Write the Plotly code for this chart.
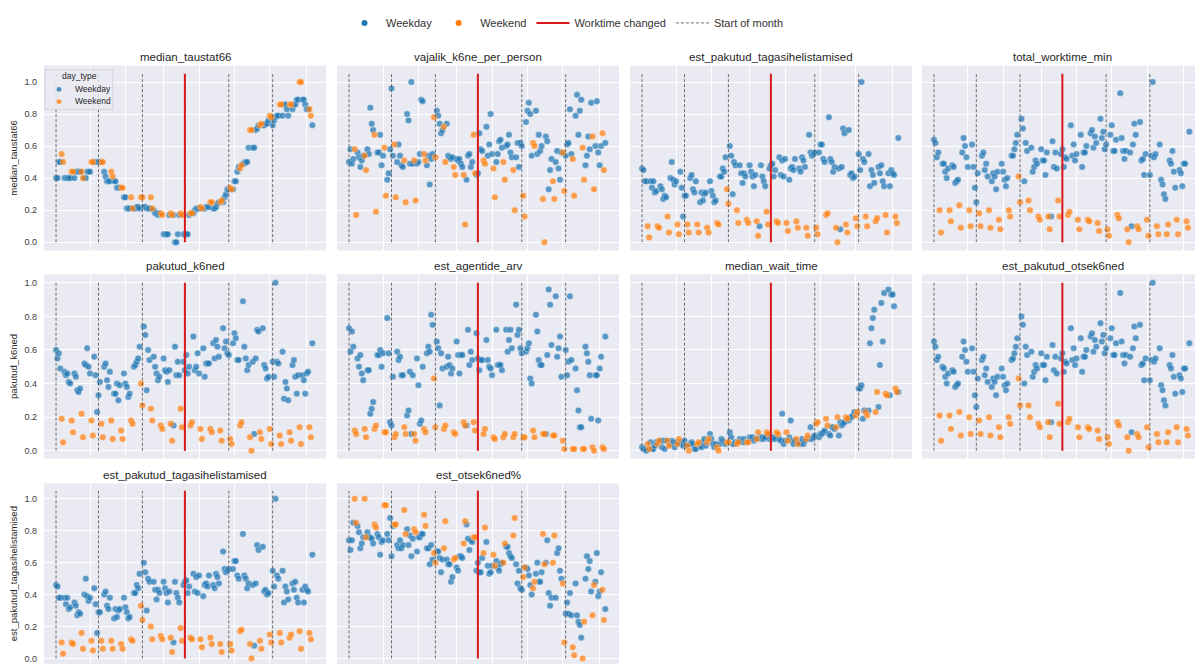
import plotly.graph_objects as go
import pandas as pd

# ---------------- data ----------------
start_date = "2020-09-01"
end_date = "2021-03-01"
month_starts = ["2020-09-01", "2020-10-01", "2020-11-01", "2020-12-01", "2021-01-01", "2021-02-01"]
worktime_change = "2020-12-01"
grid_dates = ["2020-09-25", "2020-10-20", "2020-11-16", "2020-12-11", "2021-01-05", "2021-01-30", "2021-02-25"]
x_range = ["2020-08-23 12:00", "2021-03-10 16:00"]
y_ticks = [0.0, 0.2, 0.4, 0.6, 0.8, 1.0]
y_ticktext = ["0.0", "0.2", "0.4", "0.6", "0.8", "1.0"]

# one value per day (Tue 1 Sep 2020 ... Mon 1 Mar 2021), rows = weeks (Mon..Fri, Sat, Sun)
median_taustat66 = [
    0.40, 0.40, 0.50, 0.50, 0.55, 0.50,
    0.40, 0.40, 0.40, 0.40, 0.40, 0.44, 0.44,
    0.40, 0.44, 0.44, 0.44, 0.44, 0.44, 0.40,
    0.40, 0.40, 0.44, 0.44, 0.44, 0.50, 0.50,
    0.50, 0.50, 0.50, 0.50, 0.50, 0.50, 0.50,
    0.44, 0.41, 0.38, 0.38, 0.38, 0.44, 0.41,
    0.38, 0.38, 0.34, 0.34, 0.34, 0.34, 0.34,
    0.28, 0.28, 0.21, 0.21, 0.21, 0.28, 0.21,
    0.21, 0.21, 0.22, 0.22, 0.21, 0.28, 0.28,
    0.22, 0.22, 0.21, 0.21, 0.21, 0.28, 0.21,
    0.20, 0.18, 0.18, 0.17, 0.18, 0.18, 0.17,
    0.05, 0.05, 0.05, 0.05, 0.17, 0.18, 0.17,
    0.17, 0.00, 0.00, 0.05, 0.17, 0.18, 0.17,
    0.05, 0.05, 0.05, 0.05, 0.17, 0.18, 0.18,
    0.18, 0.20, 0.21, 0.21, 0.21, 0.22, 0.21,
    0.21, 0.21, 0.22, 0.22, 0.22, 0.25, 0.25,
    0.21, 0.21, 0.22, 0.24, 0.25, 0.25, 0.26,
    0.25, 0.28, 0.30, 0.33, 0.33, 0.34, 0.33,
    0.33, 0.38, 0.38, 0.44, 0.47, 0.46, 0.48,
    0.49, 0.49, 0.50, 0.50, 0.59, 0.70, 0.70,
    0.59, 0.59, 0.70, 0.71, 0.73, 0.73, 0.74,
    0.73, 0.73, 0.74, 0.74, 0.76, 0.79, 0.78,
    0.73, 0.76, 0.78, 0.79, 0.79, 0.86, 0.86,
    0.79, 0.86, 0.86, 0.83, 0.79, 0.86, 0.86,
    0.83, 0.86, 0.86, 0.89, 0.89, 1.00, 1.00,
    0.89, 0.89, 0.86, 0.83, 0.83, 0.83, 0.79,
    0.73,
]

vajalik_k6ne_per_person = [
    0.50, 0.58, 0.49, 0.52, 0.58, 0.17,
    0.56, 0.53, 0.47, 0.51, 0.54, 0.54, 0.45,
    0.58, 0.55, 0.84, 0.74, 0.70, 0.67, 0.19,
    0.56, 0.56, 0.67, 0.48, 0.54, 0.59, 0.29,
    0.39, 0.43, 0.58, 0.96, 0.54, 0.61, 0.28,
    0.50, 0.61, 0.54, 0.48, 0.47, 0.51, 0.25,
    0.80, 0.76, 0.49, 1.00, 0.49, 0.51, 0.26,
    0.49, 0.50, 0.55, 0.89, 0.88, 0.55, 0.51,
    0.48, 0.54, 0.36, 0.52, 0.55, 0.78, 0.53,
    0.82, 0.79, 0.74, 0.68, 0.70, 0.72, 0.50,
    0.74, 0.54, 0.53, 0.52, 0.53, 0.47, 0.42,
    0.52, 0.51, 0.52, 0.49, 0.47, 0.42, 0.11,
    0.39, 0.54, 0.55, 0.47, 0.50, 0.67, 0.43,
    0.42, 0.43, 0.68, 0.58, 0.57, 0.51, 0.49,
    0.72, 0.54, 0.61, 0.80, 0.55, 0.46, 0.28,
    0.50, 0.55, 0.63, 0.64, 0.59, 0.50, 0.39,
    0.60, 0.61, 0.67, 0.56, 0.53, 0.45, 0.20,
    0.53, 0.62, 0.47, 0.62, 0.60, 0.29, 0.16,
    0.75, 0.82, 0.87, 0.80, 0.54, 0.62, 0.60,
    0.82, 0.55, 0.67, 0.57, 0.60, 0.27, 0.00,
    0.66, 0.63, 0.33, 0.45, 0.52, 0.38, 0.27,
    0.50, 0.57, 0.46, 0.39, 0.56, 0.56, 0.32,
    0.54, 0.61, 0.62, 0.83, 0.55, 0.52, 0.29,
    0.79, 0.92, 0.67, 0.82, 0.89, 0.59, 0.39,
    0.48, 0.54, 0.66, 0.58, 0.87, 0.66, 0.33,
    0.60, 0.88, 0.56, 0.48, 0.60, 0.68, 0.45,
    0.62,
]

est_pakutud_tagasihelistamised = [
    0.46, 0.45, 0.38, 0.38, 0.10, 0.03,
    0.38, 0.34, 0.38, 0.31, 0.32, 0.10, 0.09,
    0.35, 0.33, 0.27, 0.29, 0.28, 0.16, 0.06,
    0.40, 0.50, 0.39, 0.36, 0.38, 0.11, 0.05,
    0.44, 0.34, 0.16, 0.29, 0.29, 0.11, 0.06,
    0.40, 0.42, 0.33, 0.31, 0.38, 0.11, 0.06,
    0.25, 0.31, 0.26, 0.30, 0.31, 0.09, 0.06,
    0.38, 0.32, 0.29, 0.25, 0.26, 0.12, 0.11,
    0.41, 0.41, 0.46, 0.44, 0.53, 0.33, 0.24,
    0.60, 0.54, 0.30, 0.50, 0.48, 0.20, 0.12,
    0.48, 0.43, 0.37, 0.43, 0.41, 0.14, 0.12,
    0.48, 0.44, 0.41, 0.35, 0.42, 0.13, 0.04,
    0.10, 0.48, 0.41, 0.38, 0.35, 0.19, 0.11,
    0.46, 0.48, 0.49, 0.41, 0.45, 0.13, 0.12,
    0.53, 0.42, 0.51, 0.41, 0.52, 0.12, 0.07,
    0.39, 0.46, 0.47, 0.45, 0.52, 0.13, 0.09,
    0.46, 0.44, 0.53, 0.51, 0.47, 0.09, 0.04,
    0.67, 0.56, 0.54, 0.55, 0.56, 0.09, 0.05,
    0.56, 0.61, 0.61, 0.52, 0.50, 0.17, 0.18,
    0.78, 0.52, 0.50, 0.44, 0.47, 0.09, 0.00,
    0.46, 0.08, 0.47, 0.71, 0.68, 0.11, 0.06,
    0.70, 0.42, 0.43, 0.40, 0.41, 0.15, 0.10,
    0.55, 0.45, 1.00, 0.52, 0.50, 0.16, 0.10,
    0.55, 0.35, 0.45, 0.42, 0.37, 0.13, 0.15,
    0.47, 0.43, 0.48, 0.38, 0.35, 0.17, 0.06,
    0.43, 0.35, 0.45, 0.43, 0.42, 0.16, 0.12,
    0.65,
]

total_worktime_min = [
    0.64, 0.62, 0.53, 0.56, 0.20, 0.06,
    0.49, 0.49, 0.44, 0.40, 0.46, 0.20, 0.13,
    0.48, 0.47, 0.37, 0.38, 0.39, 0.23, 0.09,
    0.56, 0.65, 0.60, 0.53, 0.47, 0.20, 0.10,
    0.61, 0.47, 0.34, 0.25, 0.43, 0.18, 0.10,
    0.54, 0.56, 0.45, 0.49, 0.41, 0.20, 0.09,
    0.38, 0.43, 0.41, 0.33, 0.44, 0.14, 0.08,
    0.49, 0.44, 0.39, 0.35, 0.40, 0.20, 0.16,
    0.54, 0.54, 0.58, 0.62, 0.67, 0.41, 0.25,
    0.77, 0.71, 0.38, 0.62, 0.57, 0.26, 0.20,
    0.59, 0.44, 0.47, 0.51, 0.49, 0.16, 0.14,
    0.58, 0.51, 0.51, 0.42, 0.56, 0.16, 0.08,
    0.16, 0.63, 0.47, 0.56, 0.46, 0.26, 0.16,
    0.55, 0.58, 0.47, 0.53, 0.52, 0.17, 0.19,
    0.73, 0.54, 0.61, 0.51, 0.55, 0.14, 0.08,
    0.67, 0.47, 0.56, 0.56, 0.60, 0.14, 0.13,
    0.68, 0.70, 0.59, 0.66, 0.62, 0.12, 0.07,
    0.77, 0.65, 0.69, 0.58, 0.61, 0.08, 0.04,
    0.67, 0.73, 0.57, 0.57, 0.64, 0.17, 0.15,
    0.93, 0.65, 0.57, 0.52, 0.57, 0.08, 0.00,
    0.56, 0.10, 0.61, 0.74, 0.67, 0.10, 0.08,
    0.75, 0.51, 0.52, 0.42, 0.55, 0.14, 0.04,
    0.42, 0.54, 1.00, 0.53, 0.55, 0.10, 0.05,
    0.61, 0.39, 0.36, 0.30, 0.27, 0.05, 0.11,
    0.51, 0.49, 0.57, 0.44, 0.34, 0.14, 0.05,
    0.45, 0.43, 0.35, 0.49, 0.49, 0.13, 0.09,
    0.69,
]

pakutud_k6ned = [
    0.60, 0.55, 0.58, 0.49, 0.19, 0.05,
    0.47, 0.45, 0.46, 0.41, 0.40, 0.18, 0.11,
    0.46, 0.44, 0.36, 0.35, 0.37, 0.22, 0.08,
    0.52, 0.51, 0.61, 0.50, 0.46, 0.18, 0.09,
    0.56, 0.45, 0.23, 0.33, 0.41, 0.16, 0.08,
    0.50, 0.52, 0.42, 0.38, 0.47, 0.18, 0.07,
    0.34, 0.34, 0.40, 0.30, 0.39, 0.12, 0.07,
    0.46, 0.40, 0.38, 0.32, 0.34, 0.18, 0.16,
    0.50, 0.51, 0.53, 0.55, 0.62, 0.40, 0.27,
    0.74, 0.69, 0.36, 0.60, 0.54, 0.25, 0.18,
    0.56, 0.50, 0.46, 0.42, 0.44, 0.15, 0.13,
    0.55, 0.48, 0.47, 0.41, 0.48, 0.16, 0.06,
    0.15, 0.62, 0.45, 0.53, 0.45, 0.25, 0.14,
    0.53, 0.48, 0.57, 0.46, 0.50, 0.15, 0.17,
    0.68, 0.48, 0.50, 0.58, 0.46, 0.13, 0.07,
    0.61, 0.44, 0.52, 0.52, 0.52, 0.13, 0.11,
    0.64, 0.55, 0.66, 0.62, 0.56, 0.12, 0.06,
    0.73, 0.61, 0.65, 0.58, 0.57, 0.07, 0.04,
    0.64, 0.70, 0.67, 0.54, 0.54, 0.15, 0.17,
    0.89, 0.62, 0.55, 0.48, 0.51, 0.08, 0.00,
    0.53, 0.10, 0.55, 0.72, 0.71, 0.11, 0.07,
    0.73, 0.51, 0.49, 0.43, 0.44, 0.13, 0.04,
    0.53, 0.44, 1.00, 0.53, 0.52, 0.09, 0.04,
    0.59, 0.31, 0.41, 0.37, 0.30, 0.11, 0.06,
    0.51, 0.54, 0.44, 0.34, 0.45, 0.14, 0.04,
    0.45, 0.42, 0.34, 0.46, 0.47, 0.14, 0.08,
    0.64,
]

est_agentide_arv = [
    0.73, 0.59, 0.71, 0.62, 0.12, 0.10,
    0.55, 0.50, 0.57, 0.46, 0.42, 0.13, 0.08,
    0.48, 0.48, 0.22, 0.25, 0.29, 0.13, 0.15,
    0.57, 0.57, 0.60, 0.50, 0.58, 0.11, 0.11,
    0.79, 0.58, 0.17, 0.15, 0.44, 0.08, 0.10,
    0.59, 0.54, 0.56, 0.45, 0.45, 0.14, 0.10,
    0.21, 0.24, 0.47, 0.10, 0.45, 0.10, 0.06,
    0.55, 0.39, 0.16, 0.18, 0.50, 0.13, 0.11,
    0.58, 0.62, 0.59, 0.81, 0.75, 0.43, 0.14,
    0.65, 0.61, 0.27, 0.58, 0.49, 0.13, 0.15,
    0.50, 0.56, 0.51, 0.46, 0.49, 0.11, 0.10,
    0.65, 0.57, 0.46, 0.57, 0.57, 0.17, 0.15,
    0.15, 0.72, 0.51, 0.59, 0.54, 0.17, 0.12,
    0.70, 0.55, 0.48, 0.54, 0.54, 0.10, 0.13,
    0.66, 0.54, 0.50, 0.49, 0.45, 0.08, 0.07,
    0.72, 0.51, 0.51, 0.51, 0.48, 0.08, 0.10,
    0.72, 0.59, 0.66, 0.72, 0.61, 0.08, 0.10,
    0.87, 0.69, 0.72, 0.61, 0.58, 0.08, 0.08,
    0.59, 0.61, 0.64, 0.43, 0.40, 0.12, 0.08,
    0.81, 0.71, 0.54, 0.51, 0.51, 0.10, 0.10,
    0.10, 0.57, 0.96, 0.87, 0.63, 0.09, 0.09,
    0.92, 0.56, 0.61, 0.68, 0.44, 0.06, 0.01,
    0.60, 0.45, 0.53, 0.92, 0.54, 0.01, 0.01,
    0.49, 0.36, 0.24, 0.14, 0.14, 0.01, 0.01,
    0.62, 0.58, 0.53, 0.45, 0.19, 0.02, 0.00,
    0.45, 0.45, 0.18, 0.49, 0.56, 0.02, 0.01,
    0.68,
]

median_wait_time = [
    0.02, 0.01, 0.01, 0.00, 0.04, 0.01,
    0.05, 0.01, 0.01, 0.03, 0.05, 0.04, 0.06,
    0.06, 0.02, 0.06, 0.01, 0.06, 0.06, 0.03,
    0.04, 0.06, 0.05, 0.02, 0.05, 0.04, 0.07,
    0.04, 0.05, 0.03, 0.06, 0.03, 0.03, 0.00,
    0.04, 0.05, 0.04, 0.01, 0.01, 0.04, 0.05,
    0.03, 0.02, 0.05, 0.07, 0.03, 0.05, 0.07,
    0.10, 0.07, 0.04, 0.02, 0.04, 0.02, 0.00,
    0.04, 0.07, 0.06, 0.05, 0.04, 0.05, 0.05,
    0.11, 0.08, 0.04, 0.04, 0.05, 0.04, 0.05,
    0.07, 0.06, 0.05, 0.07, 0.05, 0.05, 0.05,
    0.08, 0.07, 0.08, 0.06, 0.07, 0.07, 0.11,
    0.08, 0.07, 0.08, 0.07, 0.08, 0.11, 0.10,
    0.07, 0.08, 0.07, 0.08, 0.07, 0.11, 0.10,
    0.07, 0.06, 0.22, 0.04, 0.06, 0.11, 0.06,
    0.08, 0.18, 0.06, 0.04, 0.06, 0.07, 0.04,
    0.05, 0.04, 0.07, 0.04, 0.06, 0.07, 0.09,
    0.07, 0.14, 0.07, 0.08, 0.09, 0.16, 0.17,
    0.08, 0.10, 0.10, 0.11, 0.12, 0.19, 0.15,
    0.10, 0.09, 0.14, 0.14, 0.13, 0.14, 0.20,
    0.09, 0.17, 0.15, 0.16, 0.17, 0.20, 0.19,
    0.18, 0.20, 0.20, 0.21, 0.23, 0.21, 0.23,
    0.37, 0.37, 0.39, 0.19, 0.24, 0.23, 0.21,
    0.24, 0.64, 0.73, 0.79, 0.84, 0.23, 0.35,
    0.26, 0.51, 0.88, 0.65, 0.94, 0.34, 0.33,
    0.96, 0.33, 0.93, 0.93, 0.86, 0.37, 0.35,
    0.35,
]

est_pakutud_otsek6ned = [
    0.65, 0.62, 0.54, 0.56, 0.21, 0.06,
    0.50, 0.49, 0.44, 0.40, 0.46, 0.21, 0.13,
    0.48, 0.47, 0.38, 0.39, 0.40, 0.23, 0.09,
    0.56, 0.65, 0.60, 0.53, 0.47, 0.20, 0.10,
    0.61, 0.47, 0.33, 0.26, 0.43, 0.18, 0.10,
    0.54, 0.56, 0.45, 0.49, 0.41, 0.20, 0.09,
    0.38, 0.43, 0.41, 0.33, 0.44, 0.14, 0.08,
    0.49, 0.44, 0.39, 0.36, 0.40, 0.20, 0.16,
    0.54, 0.55, 0.58, 0.62, 0.67, 0.43, 0.27,
    0.80, 0.75, 0.40, 0.62, 0.57, 0.27, 0.20,
    0.59, 0.44, 0.47, 0.51, 0.49, 0.16, 0.14,
    0.58, 0.51, 0.51, 0.42, 0.56, 0.17, 0.08,
    0.17, 0.63, 0.48, 0.56, 0.46, 0.28, 0.16,
    0.55, 0.58, 0.47, 0.53, 0.52, 0.17, 0.19,
    0.73, 0.54, 0.61, 0.51, 0.55, 0.14, 0.08,
    0.67, 0.47, 0.56, 0.56, 0.60, 0.14, 0.13,
    0.68, 0.70, 0.59, 0.66, 0.62, 0.12, 0.07,
    0.76, 0.65, 0.69, 0.58, 0.61, 0.08, 0.04,
    0.67, 0.73, 0.57, 0.57, 0.64, 0.17, 0.15,
    0.94, 0.65, 0.57, 0.52, 0.57, 0.08, 0.00,
    0.56, 0.11, 0.61, 0.74, 0.67, 0.10, 0.08,
    0.75, 0.51, 0.52, 0.42, 0.55, 0.14, 0.02,
    0.42, 0.54, 1.00, 0.53, 0.55, 0.10, 0.05,
    0.61, 0.39, 0.36, 0.30, 0.27, 0.05, 0.11,
    0.51, 0.49, 0.57, 0.44, 0.34, 0.14, 0.05,
    0.45, 0.43, 0.35, 0.49, 0.49, 0.13, 0.09,
    0.64,
]

est_otsek6ned_pct = [
    0.74, 0.68, 0.74, 0.85, 1.00, 0.85,
    0.83, 0.79, 0.69, 0.72, 0.76, 1.00, 0.76,
    0.79, 0.76, 0.76, 0.75, 0.72, 0.84, 0.82,
    0.78, 0.76, 0.65, 0.73, 0.74, 0.96, 0.96,
    0.78, 0.74, 0.88, 0.64, 0.83, 0.84, 0.84,
    0.71, 0.69, 0.74, 0.69, 0.71, 0.93, 0.78,
    0.81, 0.71, 0.77, 0.64, 0.75, 0.81, 0.79,
    0.67, 0.76, 0.76, 0.78, 0.78, 0.90, 0.83,
    0.69, 0.69, 0.59, 0.71, 0.62, 0.66, 0.60,
    0.67, 0.67, 0.63, 0.54, 0.62, 0.69, 0.86,
    0.62, 0.59, 0.59, 0.48, 0.51, 0.62, 0.63,
    0.57, 0.55, 0.64, 0.64, 0.63, 0.72, 0.86,
    0.84, 0.75, 0.68, 0.74, 0.73, 0.76, 0.76,
    0.55, 0.60, 0.54, 0.54, 0.63, 0.66, 0.82,
    0.73, 0.58, 0.53, 0.54, 0.58, 0.65, 0.58,
    0.61, 0.57, 0.55, 0.59, 0.60, 0.60, 0.72,
    0.70, 0.70, 0.66, 0.64, 0.63, 0.77, 0.88,
    0.59, 0.47, 0.55, 0.44, 0.43, 0.51, 0.57,
    0.57, 0.56, 0.52, 0.46, 0.40, 0.44, 0.48,
    0.53, 0.60, 0.48, 0.48, 0.54, 0.78, 0.59,
    0.60, 0.74, 0.41, 0.33, 0.38, 0.60, 0.77,
    0.38, 0.66, 0.69, 0.55, 0.50, 0.47, 0.10,
    0.28, 0.35, 0.28, 0.41, 0.27, 0.07, 0.02,
    0.47, 0.27, 0.23, 0.21, 0.13, 0.00, 0.23,
    0.50, 0.64, 0.56, 0.61, 0.42, 0.27, 0.46,
    0.48, 0.66, 0.39, 0.42, 0.54, 0.43, 0.24,
    0.31,
]

panel_titles = [
    "median_taustat66", "vajalik_k6ne_per_person", "est_pakutud_tagasihelistamised", "total_worktime_min",
    "pakutud_k6ned", "est_agentide_arv", "median_wait_time", "est_pakutud_otsek6ned",
    "est_pakutud_tagasihelistamised", "est_otsek6ned%",
]
panel_values = [
    median_taustat66, vajalik_k6ne_per_person, est_pakutud_tagasihelistamised, total_worktime_min,
    pakutud_k6ned, est_agentide_arv, median_wait_time, est_pakutud_otsek6ned,
    est_pakutud_tagasihelistamised, est_otsek6ned_pct,
]

# ---------------- styling / layout ----------------
OFF = 8                      # page margin of the browser around the figure
W, H = 1203 - OFF, 664 - OFF
BLUE = "#1f77b4"
ORANGE = "#ff7f0e"
RED = "#d9191c"
BG = "#EAEAF2"
FONT = "Liberation Sans, Arial, sans-serif"

# positions in window pixels
col_px = [(44, 326), (337, 619), (630, 912), (922, 1203)]
row_px = [(60, 246.7), (270.7, 456.7), (481.7, 664)]
row_yrange = [(-0.052, 1.103), (-0.047, 1.051), (-0.035, 1.097)]
row_line_top = [1.052, 1.0, 1.05]
row_title_y = [51.5, 262.7, 473.3]


def px_x(p):
    return (p - OFF) / W


def px_y(p):
    return 1 - (p - OFF) / H


dates = pd.date_range(start_date, end_date, freq="D")
weekend = [d.dayofweek >= 5 for d in dates]

fig = go.Figure()
layout = {}
shapes = []
annotations = []

for i, (title, vals) in enumerate(zip(panel_titles, panel_values)):
    assert len(vals) == len(dates), (title, len(vals))
    r, c = divmod(i, 4)
    sfx = "" if i == 0 else str(i + 1)
    xa, ya = "x" + sfx, "y" + sfx
    for is_we, color in ((False, BLUE), (True, ORANGE)):
        xs = [d for d, w in zip(dates, weekend) if w == is_we]
        ys = [v for v, w in zip(vals, weekend) if w == is_we]
        fig.add_trace(go.Scatter(
            x=xs, y=ys, mode="markers", xaxis=xa, yaxis=ya, showlegend=False,
            marker=dict(color=color, size=6.5, opacity=0.72, line=dict(color="white", width=0.4)),
            hoverinfo="x+y",
        ))
    x0, x1 = col_px[c]
    y0, y1 = row_px[r]
    layout["xaxis" + sfx] = dict(
        domain=[max(0, px_x(x0)), min(1, px_x(x1))], range=x_range, type="date", anchor=ya,
        showticklabels=False, tickvals=grid_dates, ticks="",
        showgrid=True, gridcolor="white", gridwidth=1, zeroline=False, showline=False,
    )
    layout["yaxis" + sfx] = dict(
        domain=[max(0, px_y(y1)), min(1, px_y(y0))], range=list(row_yrange[r]), anchor=xa,
        tickvals=y_ticks, ticktext=y_ticktext, showticklabels=(c == 0), ticks="",
        ticklabelstandoff=6,
        tickfont=dict(size=9, color="#3a3a3a", family=FONT),
        showgrid=True, gridcolor="white", gridwidth=1, zeroline=False, showline=False,
    )
    if c == 0:
        layout["yaxis" + sfx]["title"] = dict(text=title, font=dict(size=9.5, color="#262626", family=FONT), standoff=8)
    # start-of-month lines
    for ms in month_starts:
        shapes.append(dict(type="line", xref=xa, yref=ya, x0=ms, x1=ms, y0=0, y1=row_line_top[r],
                           line=dict(color="rgba(85,85,85,0.85)", width=1, dash="3px,2px"), layer="above"))
    shapes.append(dict(type="line", xref=xa, yref=ya, x0=worktime_change, x1=worktime_change,
                       y0=0, y1=row_line_top[r], line=dict(color=RED, width=2), layer="above"))
    annotations.append(dict(text=title, x=px_x((x0 + x1) / 2), y=px_y(row_title_y[r]), xref="paper", yref="paper",
                            xanchor="center", yanchor="middle", showarrow=False,
                            font=dict(size=11.5, color="#262626", family=FONT)))

# in-panel legend (day_type)
shapes.append(dict(type="rect", xref="paper", yref="paper", x0=px_x(45), x1=px_x(112.7), y0=px_y(104.3), y1=px_y(64.3),
                   fillcolor="rgba(234,234,242,0.85)", line=dict(color="#cdcdd4", width=0.8), layer="above"))
for yy, col, lab in ((84, BLUE, "Weekday"), (96.3, ORANGE, "Weekend")):
    shapes.append(dict(type="circle", xref="paper", yref="paper", x0=px_x(56.4), x1=px_x(61.6), y0=px_y(yy + 2.6),
                       y1=px_y(yy - 2.6), fillcolor=col, line=dict(color="white", width=0.4), opacity=0.8, layer="above"))
    annotations.append(dict(text=lab, x=px_x(73), y=px_y(yy), xref="paper", yref="paper", xanchor="left",
                            yanchor="middle", showarrow=False, font=dict(size=8.5, color="#262626", family=FONT)))
annotations.append(dict(text="day_type", x=px_x(79.5), y=px_y(71), xref="paper", yref="paper", xanchor="center",
                        yanchor="middle", showarrow=False, font=dict(size=8.5, color="#262626", family=FONT)))

# figure legend entries
fig.add_trace(go.Scatter(x=[None], y=[None], mode="markers", name="Weekday",
                         marker=dict(color=BLUE, size=6)))
fig.add_trace(go.Scatter(x=[None], y=[None], mode="markers", name="Weekend",
                         marker=dict(color=ORANGE, size=6)))
fig.add_trace(go.Scatter(x=[None], y=[None], mode="lines", name="Worktime changed",
                         line=dict(color=RED, width=2)))
fig.add_trace(go.Scatter(x=[None], y=[None], mode="lines", name="Start of month",
                         line=dict(color="rgba(85,85,85,0.85)", width=1, dash="3px,2px")))

fig.update_layout(
    width=W, height=H, margin=dict(l=0, r=0, t=0, b=0),
    paper_bgcolor="white", plot_bgcolor=BG,
    font=dict(family=FONT, color="#262626"),
    showlegend=True,
    legend=dict(orientation="h", x=px_x(566), xanchor="center", y=px_y(17), yanchor="middle",
                itemwidth=33,
                font=dict(size=11, color="#333333", family=FONT), bgcolor="rgba(0,0,0,0)"),
    shapes=shapes, annotations=annotations,
    **layout,
)

fig.write_html("out.html")
